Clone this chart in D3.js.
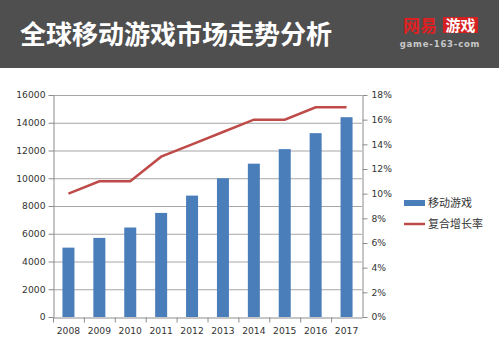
<!DOCTYPE html>
<html>
<head>
<meta charset="utf-8">
<script src="https://cdn.jsdelivr.net/npm/d3@7"></script>
<style>
  body { margin: 0; background: #fff; }
  svg { display: block; font-family: "Noto Sans CJK SC", "DejaVu Sans", sans-serif; }
</style>
</head>
<body>
<svg id="chart" width="499" height="363"></svg>
<script>
const years = ['2008', '2009', '2010', '2011', '2012', '2013', '2014', '2015', '2016', '2017']
const marketSize = [5000, 5700, 6450, 7500, 8750, 10000, 11050, 12100, 13250, 14400]
const growthRate = [10, 11, 11, 13, 14, 15, 16, 16, 17, 17]
const leftTicks = [0, 2000, 4000, 6000, 8000, 10000, 12000, 14000, 16000]
const rightTicks = [0, 2, 4, 6, 8, 10, 12, 14, 16, 18]
const seriesNames = ['移动游戏', '复合增长率']

const svg = d3.select('#chart')

// header band
svg.append('rect').attr('width', 499).attr('height', 68).attr('fill', '#4f4f4f')
svg.append('text')
    .attr('x', 20).attr('y', 44)
    .attr('fill', '#fff')
    .attr('font-size', 26)
    .attr('font-weight', 'bold')
    .text('全球移动游戏市场走势分析')

// logo
const logo = svg.append('g')
logo.append('text')
    .attr('x', 403).attr('y', 32)
    .attr('fill', '#e02020').attr('font-size', 17).attr('font-weight', 'bold')
    .text('网易')
logo.append('rect').attr('x', 443).attr('y', 17).attr('width', 35).attr('height', 16).attr('fill', '#d42020')
logo.append('text')
    .attr('x', 460.5).attr('y', 31).attr('text-anchor', 'middle')
    .attr('fill', '#fff').attr('font-size', 15).attr('font-weight', 'bold')
    .text('游戏')
logo.append('text')
    .attr('x', 440).attr('y', 47).attr('text-anchor', 'middle')
    .attr('fill', '#c8c8c8').attr('font-size', 8.5).attr('font-weight', 'bold')
    .attr('font-family', '"DejaVu Sans", sans-serif')
    .attr('letter-spacing', 0.8)
    .text('game-163-com')

const plotLeft = 53, plotRight = 362, plotTop = 95, plotBottom = 317

const x = d3.scaleBand().domain(years).range([plotLeft, plotRight])
const yL = d3.scaleLinear().domain([0, 16000]).range([plotBottom, plotTop])
const yR = d3.scaleLinear().domain([0, 18]).range([plotBottom, plotTop])

// gridlines
svg.append('g')
    .selectAll('line')
    .data(leftTicks.slice(1))
    .join('line')
    .attr('x1', plotLeft).attr('x2', plotRight)
    .attr('y1', d => yL(d) + 0.5).attr('y2', d => yL(d) + 0.5)
    .attr('stroke', '#a6a6a6')

// bars
svg.append('g')
    .selectAll('rect')
    .data(marketSize)
    .join('rect')
    .attr('x', (d, i) => x(years[i]) + x.bandwidth() / 2 - 6)
    .attr('width', 12)
    .attr('y', d => yL(d))
    .attr('height', d => plotBottom - yL(d))
    .attr('fill', '#4a7ebb')

// line
const line = d3.line()
    .x((d, i) => x(years[i]) + x.bandwidth() / 2)
    .y(d => yR(d))
svg.append('path')
    .datum(growthRate)
    .attr('d', line)
    .attr('fill', 'none')
    .attr('stroke', '#be4b48')
    .attr('stroke-width', 2.5)

// axes
const axisStyle = g => {
    g.selectAll('.domain, .tick line').attr('stroke', '#8c8c8c')
    g.selectAll('text').attr('fill', '#333').attr('font-size', 9.2)
        .attr('font-family', '"DejaVu Sans", sans-serif')
}

svg.append('g')
    .attr('transform', `translate(${plotLeft + 0.5},0)`)
    .call(d3.axisLeft(yL).tickValues(leftTicks).tickSize(5).tickPadding(3).tickSizeOuter(0)
        .tickFormat(d3.format('d')))
    .call(axisStyle)

svg.append('g')
    .attr('transform', `translate(${plotRight + 0.5},0)`)
    .call(d3.axisRight(yR).tickValues(rightTicks).tickSize(5).tickPadding(4).tickSizeOuter(0)
        .tickFormat(d => d + '%'))
    .call(axisStyle)

const xAxis = svg.append('g')
    .attr('transform', `translate(0,${plotBottom + 0.5})`)
    .call(d3.axisBottom(x).tickSize(0).tickPadding(10).tickSizeOuter(0))
    .call(axisStyle)

// category separators on x axis
xAxis.selectAll('.sep')
    .data(years)
    .join('line')
    .attr('class', 'sep')
    .attr('x1', d => x(d) + 0.5).attr('x2', d => x(d) + 0.5)
    .attr('y1', 0).attr('y2', 5)
    .attr('stroke', '#8c8c8c')

// legend
const legend = svg.append('g').attr('font-size', 11).attr('fill', '#333')
legend.append('rect').attr('x', 404).attr('y', 200).attr('width', 21).attr('height', 6).attr('fill', '#4a7ebb')
legend.append('line').attr('x1', 404).attr('x2', 425).attr('y1', 224).attr('y2', 224)
    .attr('stroke', '#be4b48').attr('stroke-width', 2.5)
legend.selectAll('text')
    .data(seriesNames)
    .join('text')
    .attr('x', 428)
    .attr('y', (d, i) => 207 + i * 21)
    .attr('fill', '#333')
    .text(d => d)
</script>
</body>
</html>
